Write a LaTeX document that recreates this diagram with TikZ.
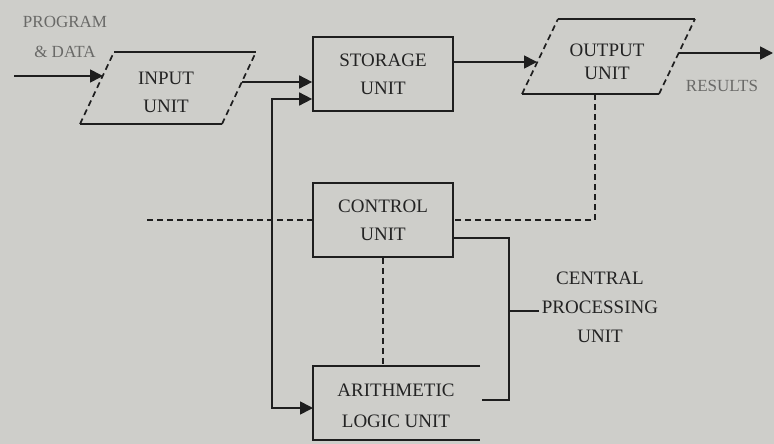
\documentclass[tikz,border=0pt]{standalone}
\usepackage{fontspec}
\setmainfont{Liberation Serif}
\usetikzlibrary{arrows.meta,calc}
\definecolor{bg}{RGB}{206,206,202}
\definecolor{ink}{RGB}{30,30,30}
\definecolor{txt}{RGB}{35,35,35}
\definecolor{lbl}{RGB}{105,105,103}
\begin{document}
\begin{tikzpicture}[x=1pt,y=-1pt,line width=1.7pt,draw=ink,
  box/.style={draw=ink,line width=1.7pt,minimum width=140pt,minimum height=74pt,inner sep=0pt,text=txt,font=\fontsize{19}{28}\selectfont,align=center},
  txtnode/.style={text=txt,font=\fontsize{19}{28}\selectfont,align=center,inner sep=2pt},
  lab/.style={text=lbl,font=\fontsize{17}{30}\selectfont,align=center,inner sep=2pt},
  arr/.style={-{Triangle[length=13pt,width=13pt]}},
  darr/.style={{Triangle[length=13pt,width=13pt]}-{Triangle[length=13pt,width=13pt]}},
  dsh/.style={dash pattern=on 6pt off 4pt}]
\path[fill=bg,use as bounding box] (0,0) rectangle (774,444);

% labels
\node[lab] (pd) at (65,37) {PROGRAM\\\& DATA};
\node[lab] (res) at (722,86) {RESULTS};

% input unit
\coordinate (iTL) at (114,52);
\coordinate (iTR) at (256,52);
\coordinate (iBL) at (80,124);
\coordinate (iBR) at (222,124);
\draw (iTL) -- (iTR);
\draw (iBL) -- (iBR);
\draw[dsh] (iBL) -- (iTL);
\draw[dsh] (iBR) -- (iTR);
\node[txtnode] (input) at (166,92) {INPUT\\UNIT};
\coordinate (src) at (14,76);
\coordinate (inL) at (103,76);
\coordinate (inR) at (242,82);
\draw[arr] (src) -- (inL);

% storage unit
\node[box] (storage) at (383,74) {STORAGE\\UNIT};
\draw[arr] (inR) -- (inR -| storage.west);

% output unit
\coordinate (oTL) at (558,19);
\coordinate (oTR) at (695,19);
\coordinate (oBL) at (522,94);
\coordinate (oBR) at (659,94);
\draw (oTL) -- (oTR);
\draw (oBL) -- (oBR);
\draw[dsh] (oBL) -- (oTL);
\draw[dsh] (oBR) -- (oTR);
\node[txtnode,font=\fontsize{19}{23}\selectfont] (output) at (607,62) {OUTPUT\\UNIT};
\coordinate (oL) at (537,62);
\coordinate (oR) at (679,53);
\coordinate (resEnd) at (773,53);
\draw[arr] (storage.east |- oL) -- (oL);
\draw[arr] (oR) -- (resEnd);

% control unit
\node[box] (control) at (383,220) {CONTROL\\UNIT};
\coordinate (oB) at (595,94);
\draw[dsh] (oB) -- (oB |- control.east) -- (control.east);
\coordinate (cl) at (147,220);
\draw[dsh] (cl) -- (control.west);

% ALU
\coordinate (aTL) at (313,366);
\coordinate (aTR) at (480,366);
\coordinate (aBL) at (313,440);
\coordinate (aBR) at (480,440);
\draw (aTR) -- (aTL) -- (aBL) -- (aBR);
\node[txtnode,font=\fontsize{19}{31}\selectfont] (alu) at (396,406) {ARITHMETIC\\LOGIC UNIT};
\draw[dsh] (control.south) -- (control.south |- aTL);

% bus from storage to ALU
\coordinate (busTop) at (272,99);
\coordinate (busBot) at (272,408);
\draw[darr] (storage.west |- busTop) -- (busTop) -- (busBot) -- (busBot -| aTL);

% control to ALU
\coordinate (cR) at (509,238);
\coordinate (aEnd) at (482,400);
\draw (control.east |- cR) -- (cR) -- (cR |- aEnd) -- (aEnd);

% CPU label
\node[txtnode,font=\fontsize{19}{29}\selectfont] (cpu) at (600,307) {CENTRAL\\PROCESSING\\UNIT};
\coordinate (cpuL) at (509,311);
\draw (cpuL) -- (cpuL -| cpu.west);
\end{tikzpicture}
\end{document}
